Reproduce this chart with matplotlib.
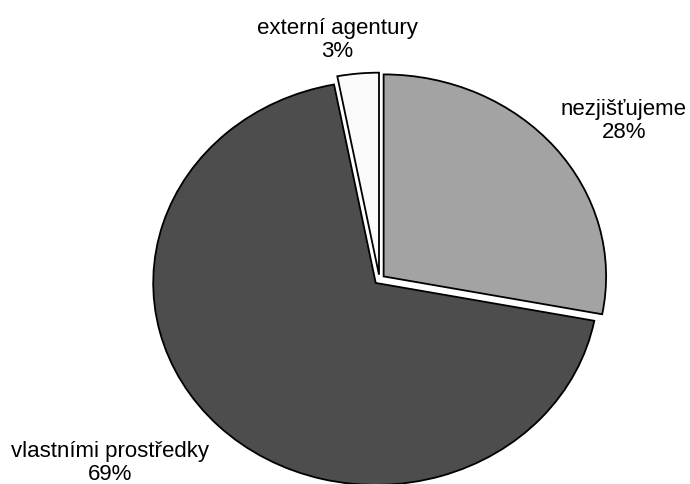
import matplotlib
matplotlib.use('Agg')
import matplotlib.pyplot as plt

labels = ['nezjišťujeme', 'vlastními prostředky', 'externí agentury']
values = [28, 69, 3]
colors = ['#a3a3a3', '#4d4d4d', '#fafafa']

# label anchors in pixels (x centre, last-line baseline from top)
label_pos = {'nezjišťujeme': (624, 138),
             'vlastními prostředky': (110, 480),
             'externí agentury': (337, 57)}

W, H = 690, 484
fig = plt.figure(figsize=(W / 100, H / 100), dpi=100)
ax = fig.add_axes([0, 0, 1, 1])

ax.pie(values, colors=colors, startangle=90, counterclock=False,
       explode=[0.024] * len(values),
       wedgeprops={'edgecolor': 'black', 'linewidth': 1.3})

# stretched ellipse: 222 px per unit in x, 202 px per unit in y
cx, cy = 379.5, 279.5
sx, sy = 222.5, 202.0
ax.set_aspect('auto')
ax.set_xlim(-cx / sx, (W - cx) / sx)
ax.set_ylim(-(H - cy) / sy, cy / sy)
ax.axis('off')

for lab, v in zip(labels, values):
    px, py = label_pos[lab]
    fig.text(px / W, 1 - py / H, f'{lab}\n{v}%', ha='center', va='baseline',
             multialignment='center', fontsize=16, linespacing=1.15,
             family=['Liberation Sans', 'DejaVu Sans'])

fig.savefig('out.png', dpi=100)
